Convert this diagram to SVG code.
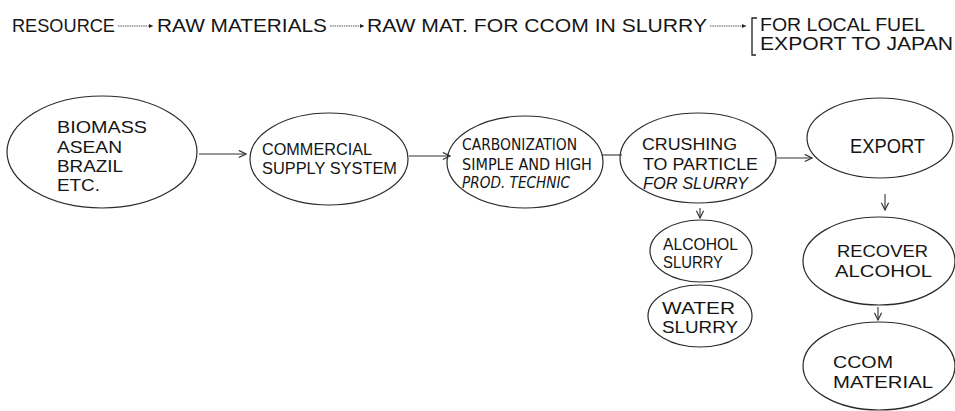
<svg xmlns="http://www.w3.org/2000/svg" width="955" height="411" viewBox="0 0 955 411">
  <style>
    text { font-family: "Liberation Sans", Arial, sans-serif; fill: #151515; }
    .node ellipse { fill: none; stroke: #2a2a2a; stroke-width: 1.2; }
    .flow { stroke: #333; stroke-width: 1.1; fill: none; }
    .top { stroke: #555; stroke-width: 1.2; stroke-dasharray: 1.5 0.8; fill: none; }
    .cond { font-family: "DejaVu Sans Condensed", "Liberation Sans", sans-serif; }
  </style>
  <defs>
    <marker id="open" viewBox="0 0 10 10" refX="9" refY="5" markerWidth="9" markerHeight="9" markerUnits="userSpaceOnUse" orient="auto">
      <path d="M1,1 L9,5 L1,9" fill="none" stroke="#333" stroke-width="1.3"/>
    </marker>
    <marker id="dot" viewBox="0 0 10 10" refX="9" refY="5" markerWidth="5" markerHeight="5" markerUnits="userSpaceOnUse" orient="auto">
      <path d="M1,1 L9,5 L1,9 Z" fill="#222"/>
    </marker>
  </defs>

  <!-- heading chain -->
  <g id="heading" font-size="19">
    <text x="12" y="32" textLength="103" lengthAdjust="spacingAndGlyphs">RESOURCE</text>
    <text x="157" y="32" textLength="170" lengthAdjust="spacingAndGlyphs">RAW MATERIALS</text>
    <text x="367" y="32" textLength="340" lengthAdjust="spacingAndGlyphs">RAW MAT. FOR CCOM IN SLURRY</text>
    <path d="M757,18 L752,18 L752,55 L756,55" fill="none" stroke="#222" stroke-width="1.3"/>
    <text x="760" y="31" textLength="165" lengthAdjust="spacingAndGlyphs">FOR LOCAL FUEL</text>
    <text x="760" y="50" textLength="193" lengthAdjust="spacingAndGlyphs">EXPORT TO JAPAN</text>
  </g>

  <!-- connectors -->
  <g id="connectors">
    <line class="top" x1="118" y1="26" x2="153" y2="26" marker-end="url(#dot)"/>
    <line class="top" x1="330" y1="26" x2="364" y2="26" marker-end="url(#dot)"/>
    <line class="top" x1="710" y1="26" x2="746" y2="26" marker-end="url(#dot)"/>
    <line class="flow" x1="199" y1="154" x2="246" y2="154" marker-end="url(#open)"/>
    <line class="flow" x1="409" y1="156" x2="450" y2="156" marker-end="url(#open)"/>
    <line class="flow" x1="602" y1="155" x2="622" y2="155"/>
    <line class="flow" x1="777" y1="158" x2="812" y2="158" marker-end="url(#open)"/>
    <line class="flow" x1="885" y1="194" x2="885" y2="210" marker-end="url(#open)"/>
    <line class="flow" x1="700" y1="208" x2="700" y2="218" marker-end="url(#open)"/>
    <line class="flow" x1="878" y1="307" x2="878" y2="320" marker-end="url(#open)"/>
  </g>

  <g id="biomass" class="node" font-size="17">
    <ellipse cx="102" cy="152" rx="95" ry="56"/>
    <text x="57" y="133" textLength="90" lengthAdjust="spacingAndGlyphs">BIOMASS</text>
    <text x="57" y="153" textLength="65" lengthAdjust="spacingAndGlyphs">ASEAN</text>
    <text x="57" y="172" textLength="66" lengthAdjust="spacingAndGlyphs">BRAZIL</text>
    <text x="57" y="191" textLength="43" lengthAdjust="spacingAndGlyphs">ETC.</text>
  </g>

  <g id="supply" class="node" font-size="16">
    <ellipse cx="329" cy="159" rx="79" ry="46"/>
    <text x="262" y="155" textLength="110" lengthAdjust="spacingAndGlyphs">COMMERCIAL</text>
    <text x="262" y="174" textLength="135" lengthAdjust="spacingAndGlyphs">SUPPLY SYSTEM</text>
  </g>

  <g id="carbonization" class="node" font-size="15">
    <ellipse cx="525" cy="162" rx="78" ry="46"/>
    <text class="cond" x="462" y="150" textLength="115" lengthAdjust="spacingAndGlyphs">CARBONIZATION</text>
    <text class="cond" x="462" y="170" textLength="130" lengthAdjust="spacingAndGlyphs">SIMPLE AND HIGH</text>
    <text class="cond" x="462" y="188" textLength="108" lengthAdjust="spacingAndGlyphs" font-style="italic">PROD. TECHNIC</text>
  </g>

  <g id="crushing" class="node" font-size="16">
    <ellipse cx="698" cy="158" rx="78" ry="45"/>
    <text x="642" y="150" textLength="95" lengthAdjust="spacingAndGlyphs">CRUSHING</text>
    <text x="643" y="170" textLength="115" lengthAdjust="spacingAndGlyphs">TO PARTICLE</text>
    <text x="643" y="189" textLength="105" lengthAdjust="spacingAndGlyphs" font-style="italic">FOR SLURRY</text>
  </g>

  <g id="export" class="node" font-size="20">
    <ellipse cx="880" cy="138" rx="73" ry="40"/>
    <text x="850" y="153" textLength="75" lengthAdjust="spacingAndGlyphs">EXPORT</text>
  </g>

  <g id="alcohol-slurry" class="node" font-size="16">
    <ellipse cx="701" cy="251" rx="51" ry="31"/>
    <text x="663" y="250" textLength="75" lengthAdjust="spacingAndGlyphs">ALCOHOL</text>
    <text x="663" y="268" textLength="60" lengthAdjust="spacingAndGlyphs">SLURRY</text>
  </g>

  <g id="water-slurry" class="node" font-size="16">
    <ellipse cx="700" cy="316" rx="52" ry="31"/>
    <text x="662" y="314" textLength="73" lengthAdjust="spacingAndGlyphs">WATER</text>
    <text x="662" y="333" textLength="76" lengthAdjust="spacingAndGlyphs">SLURRY</text>
  </g>

  <g id="recover" class="node" font-size="17">
    <ellipse cx="879" cy="261" rx="76" ry="44"/>
    <text x="837" y="257" textLength="91" lengthAdjust="spacingAndGlyphs">RECOVER</text>
    <text x="835" y="277" textLength="97" lengthAdjust="spacingAndGlyphs">ALCOHOL</text>
  </g>

  <g id="ccom" class="node" font-size="17">
    <ellipse cx="879" cy="366" rx="76" ry="44"/>
    <text x="833" y="368" textLength="60" lengthAdjust="spacingAndGlyphs">CCOM</text>
    <text x="833" y="388" textLength="100" lengthAdjust="spacingAndGlyphs">MATERIAL</text>
  </g>
</svg>
